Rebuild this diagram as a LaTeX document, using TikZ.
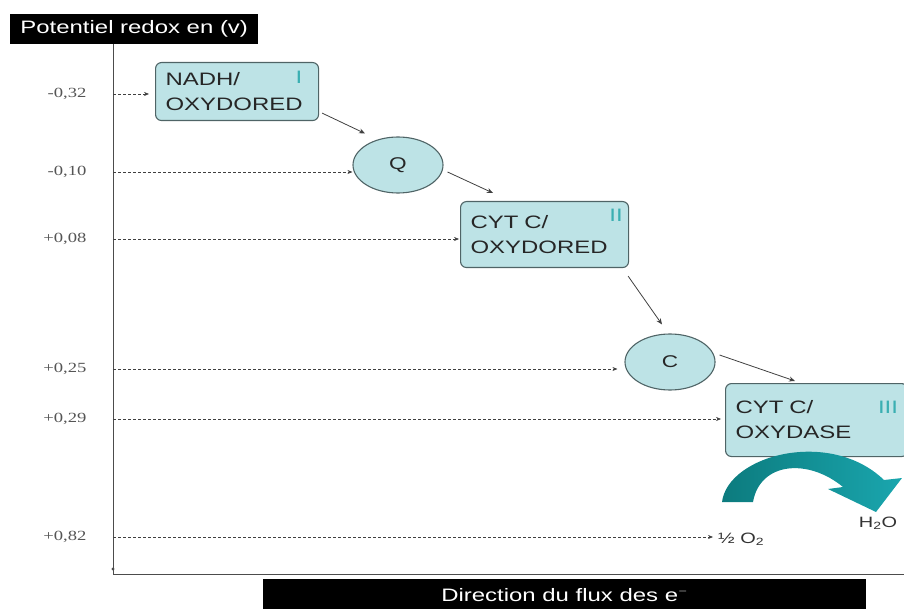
\documentclass[tikz,border=0pt]{standalone}
\usepackage{fontspec}
\setmainfont{Liberation Sans}[FakeStretch=1.33]
\newfontfamily\numfont{Liberation Serif}[FakeStretch=1.33]
\usetikzlibrary{calc,arrows.meta,shapes.geometric}
\definecolor{boxfill}{HTML}{BDE3E6}
\definecolor{boxdraw}{HTML}{4F6466}
\definecolor{tealA}{HTML}{0C7B7E}
\definecolor{tealB}{HTML}{1AA6AE}
\definecolor{romcol}{HTML}{3AAFB2}
\definecolor{numcol}{HTML}{555555}
\tikzset{
  enzbox/.style={draw=boxdraw,line width=1.1pt,fill=boxfill,rounded corners=6pt,
    anchor=north west,align=left,inner xsep=10pt,
    font=\fontsize{18}{25}\selectfont,text=black!85},
  carrier/.style={ellipse,draw=boxdraw,line width=1.1pt,fill=boxfill,
    minimum width=90pt,minimum height=56pt,font=\fontsize{17}{20}\selectfont,text=black!85},
  rom/.style={font=\fontsize{18}{20}\selectfont,text=romcol},
  numlab/.style={anchor=east,font=\numfont\fontsize{14}{16}\selectfont,text=numcol},
  dasharrow/.style={draw=black!75,line width=0.6pt,dash pattern=on 3pt off 2pt,
    -{Stealth[length=5pt,width=4pt]}},
  flowarrow/.style={draw=black!75,line width=0.8pt,-{Stealth[length=6pt,width=5pt]}},
  headbox/.style={fill=black,text=white,font=\fontsize{18}{20}\selectfont,inner sep=0pt}
}
\begin{document}
\begin{tikzpicture}[x=1pt,y=-1pt]
\useasboundingbox (0,0) rectangle (904,609);
% title boxes
\node[headbox,minimum width=248pt,minimum height=30pt,anchor=north west] (title) at (10,14) {Potentiel redox en (v)};
\node[headbox,minimum width=603pt,minimum height=31pt,anchor=north west] (flux) at (263,579) {Direction du flux des e$^{-}$};
% axes
\coordinate (top) at (113,44);
\coordinate (bot) at (113,574);
\coordinate (right) at (904,574);
\draw[black!70,line width=1pt] (top) -- (bot) -- (right);
\fill[black!70] (113,569) circle (1.6pt);
% enzyme boxes
\node[enzbox,minimum width=163pt,minimum height=58pt,text width=143pt] (n1) at (155,62) {NADH/\\OXYDORED};
\node[rom] (r1) at (299,77) {I};
\node[carrier] (q) at (398,165) {Q};
\node[enzbox,minimum width=168pt,minimum height=66pt,text width=148pt] (n2) at (460,201) {CYT C/\\OXYDORED};
\node[rom] (r2) at (616,215) {II};
\node[carrier] (c) at (670,362) {C};
\node[enzbox,minimum width=182pt,minimum height=73pt,text width=162pt] (n3) at (725,383) {CYT C/\\OXYDASE};
\node[rom] (r3) at (888,407) {III};
% products
\node[anchor=west,font=\fontsize{15}{17}\selectfont,text=black!80,inner sep=0pt] (o2) at (718,539) {½ O\textsubscript{2}};
\node[font=\fontsize{15}{17}\selectfont,text=black!80,inner sep=0pt] (h2o) at (878,523) {H\textsubscript{2}O};
% number labels
\node[numlab] (v1) at (90,94) {-0,32};
\node[numlab] (v2) at (90,172) {-0,10};
\node[numlab] (v3) at (90,239) {+0,08};
\node[numlab] (v4) at (90,369) {+0,25};
\node[numlab] (v5) at (90,419) {+0,29};
\node[numlab] (v6) at (90,537) {+0,82};
% dashed level arrows
\coordinate (a1) at (113,94);
\coordinate (a2) at (113,172);
\coordinate (a3) at (113,239);
\coordinate (a4) at (113,369);
\coordinate (a5) at (113,419);
\coordinate (a6) at (113,537);
\draw[dasharrow,shorten >=6pt] (a1) -- (a1 -| n1.west);
\draw[dasharrow] (a2) -- (a2 -| q.west);
\draw[dasharrow,shorten >=1pt] (a3) -- (a3 -| n2.west);
\draw[dasharrow,shorten >=7pt] (a4) -- (a4 -| c.west);
\draw[dasharrow,shorten >=4pt] (a5) -- (a5 -| n3.west);
\draw[dasharrow,shorten >=5pt] (a6) -- (a6 -| o2.west);
% electron flow arrows
\draw[flowarrow] ($(n1.south east)+(3,-8)$) -- ($(q.north)+(-33,-3)$);
\draw[flowarrow] ($(q.east)+(4,7)$) -- ($(n2.north west)+(33,-8)$);
\draw[flowarrow] ($(n2.south east)+(-1,8)$) -- ($(c.north)+(-8,-9)$);
\draw[flowarrow] ($(c.east)+(4,-7)$) -- ($(n3.north west)+(70,-2)$);
% curved teal arrow
\shade[left color=tealA,right color=tealB]
  (722,502) .. controls (728,455) and (830,428) .. (884,480)
  -- (902,478) -- (876,512) -- (828,489) -- (843,487)
  .. controls (808,458) and (760,462) .. (753,502) -- cycle;
\end{tikzpicture}
\end{document}
